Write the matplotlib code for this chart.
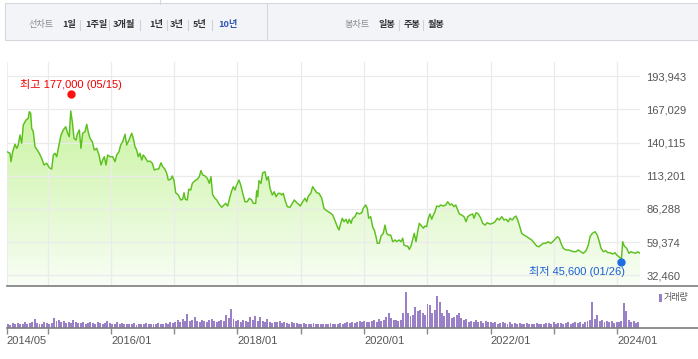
import numpy as np
import matplotlib
matplotlib.use('Agg')
import matplotlib.pyplot as plt
from matplotlib.lines import Line2D
from matplotlib.patches import Rectangle

plt.rcParams['font.family'] = ['Liberation Sans', 'Noto Sans CJK KR']

# ---------------- data ----------------
price_t = [
    2014.352, 2014.404, 2014.420, 2014.447, 2014.483, 2014.510, 2014.535, 2014.562, 2014.589, 2014.614,
    2014.657, 2014.693, 2014.709, 2014.731, 2014.747, 2014.772, 2014.799, 2014.836, 2014.867, 2014.905,
    2014.942, 2014.984, 2015.025, 2015.063, 2015.089, 2015.115, 2015.142, 2015.179, 2015.210, 2015.247,
    2015.285, 2015.316, 2015.341, 2015.364, 2015.389, 2015.416, 2015.447, 2015.468, 2015.500, 2015.526,
    2015.553, 2015.590, 2015.617, 2015.642, 2015.669, 2015.705, 2015.737, 2015.775, 2015.811, 2015.843,
    2015.869, 2015.895, 2015.922, 2015.948, 2015.985, 2016.028, 2016.064, 2016.091, 2016.127, 2016.154,
    2016.186, 2016.222, 2016.249, 2016.285, 2016.328, 2016.353, 2016.380, 2016.407, 2016.432, 2016.459,
    2016.486, 2016.511, 2016.549, 2016.581, 2016.617, 2016.654, 2016.685, 2016.723, 2016.755, 2016.791,
    2016.818, 2016.854, 2016.881, 2016.906, 2016.944, 2016.970, 2016.997, 2017.023, 2017.065, 2017.102,
    2017.134, 2017.155, 2017.175, 2017.207, 2017.229, 2017.261, 2017.286, 2017.329, 2017.365, 2017.396,
    2017.423, 2017.450, 2017.487, 2017.523, 2017.555, 2017.581, 2017.608, 2017.645, 2017.672, 2017.708,
    2017.751, 2017.787, 2017.814, 2017.845, 2017.882, 2017.909, 2017.934, 2017.961, 2017.988, 2018.024,
    2018.051, 2018.083, 2018.119, 2018.155, 2018.187, 2018.225, 2018.250, 2018.288, 2018.304, 2018.320,
    2018.340, 2018.372, 2018.399, 2018.435, 2018.462, 2018.487, 2018.514, 2018.551, 2018.582, 2018.609,
    2018.645, 2018.672, 2018.699, 2018.724, 2018.751, 2018.788, 2018.830, 2018.867, 2018.898, 2018.936,
    2018.961, 2018.993, 2019.031, 2019.067, 2019.094, 2019.120, 2019.158, 2019.189, 2019.225, 2019.252,
    2019.289, 2019.331, 2019.368, 2019.410, 2019.463, 2019.505, 2019.542, 2019.578, 2019.605, 2019.632,
    2019.657, 2019.684, 2019.716, 2019.742, 2019.768, 2019.795, 2019.821, 2019.858, 2019.885, 2019.926,
    2019.964, 2019.989, 2020.027, 2020.052, 2020.074, 2020.106, 2020.138, 2020.163, 2020.190, 2020.210,
    2020.242, 2020.269, 2020.305, 2020.332, 2020.359, 2020.384, 2020.422, 2020.454, 2020.490, 2020.517,
    2020.553, 2020.585, 2020.612, 2020.632, 2020.664, 2020.691, 2020.716, 2020.743, 2020.770, 2020.795,
    2020.822, 2020.849, 2020.874, 2020.912, 2020.938, 2020.964, 2020.991, 2021.017, 2021.043, 2021.070,
    2021.096, 2021.122, 2021.149, 2021.186, 2021.212, 2021.254, 2021.292, 2021.323, 2021.360, 2021.386,
    2021.423, 2021.450, 2021.481, 2021.507, 2021.545, 2021.581, 2021.613, 2021.639, 2021.676, 2021.718,
    2021.739, 2021.771, 2021.807, 2021.845, 2021.877, 2021.913, 2021.949, 2021.992, 2022.035, 2022.071,
    2022.107, 2022.139, 2022.177, 2022.213, 2022.245, 2022.281, 2022.308, 2022.344, 2022.376, 2022.403,
    2022.430, 2022.455, 2022.493, 2022.529, 2022.572, 2022.608, 2022.651, 2022.687, 2022.730, 2022.766,
    2022.798, 2022.834, 2022.872, 2022.913, 2022.951, 2022.983, 2023.019, 2023.056, 2023.087, 2023.114,
    2023.151, 2023.193, 2023.230, 2023.268, 2023.309, 2023.351, 2023.388, 2023.426, 2023.467, 2023.510,
    2023.546, 2023.573, 2023.609, 2023.652, 2023.688, 2023.720, 2023.747, 2023.783, 2023.821, 2023.853,
    2023.889, 2023.932, 2023.968, 2023.995, 2024.030, 2024.070, 2024.089, 2024.115, 2024.153, 2024.189,
    2024.221, 2024.257, 2024.295, 2024.327, 2024.363,
]
price_v = [
    132700, 131400, 124600, 132700, 138700, 135400, 138100, 146200, 139500, 154300,
    158400, 159700, 165100, 163800, 151600, 148900, 136700, 134000, 131400, 127300,
    121900, 123300, 119700, 118600, 130000, 131400, 128600, 138100, 146200, 150300,
    152900, 147600, 144800, 165700, 157000, 143500, 142100, 146800, 150300, 135400,
    147600, 148900, 154900, 148400, 143500, 140800, 134000, 135400, 130000, 121900,
    125900, 128600, 121900, 130000, 128600, 128600, 124600, 130000, 132700, 138100,
    140800, 146800, 138100, 142100, 147600, 143500, 136700, 134000, 128600, 131400,
    125900, 130000, 127300, 124600, 125100, 123300, 117800, 118600, 118600, 123700,
    120500, 118400, 115200, 109700, 110300, 113000, 109200, 99400, 97600, 93500,
    94100, 99400, 94100, 93500, 102200, 101600, 107000, 109200, 110300, 112400,
    117300, 113800, 113000, 111100, 107000, 112400, 97600, 94900, 93500, 90300,
    87600, 89500, 90800, 88600, 96200, 101000, 104300, 101600, 105700, 109700,
    105700, 98900, 92100, 92100, 94900, 93500, 90800, 90800, 101000, 96200,
    109200, 107000, 115600, 116400, 109700, 112400, 103000, 97600, 100200, 96200,
    98900, 98900, 97600, 98900, 93500, 88100, 87600, 90800, 93500, 91300,
    90300, 88600, 92100, 94900, 92100, 96700, 98900, 104300, 101600, 99400,
    98900, 95100, 86600, 84800, 83200, 81300, 76700, 71900, 69200, 74600,
    78700, 75900, 77900, 74600, 77900, 74600, 78700, 80000, 83200, 82200,
    83200, 86800, 89500, 86800, 78700, 80000, 71400, 69200, 63800, 58400,
    58400, 64300, 66500, 73200, 66500, 65100, 65100, 59700, 61100, 59700,
    61100, 59700, 62500, 57000, 56200, 56200, 53500, 56200, 61600, 66500,
    59700, 67800, 74600, 72400, 70600, 72400, 71900, 78700, 82200, 77900,
    81300, 84000, 88600, 88100, 89500, 88600, 89500, 92100, 89500, 90300,
    88100, 89500, 85400, 82200, 81300, 80000, 75900, 80000, 81300, 82200,
    78700, 83200, 82200, 78900, 74600, 73200, 75100, 74000, 74600, 75900,
    78700, 77300, 80000, 77300, 77900, 75900, 78700, 77300, 79500, 80500,
    77300, 73200, 66500, 65100, 63800, 62500, 61100, 58900, 56200, 55600,
    57000, 58400, 58400, 59700, 58400, 59700, 61600, 63800, 62500, 58400,
    54300, 53000, 53000, 52400, 51600, 51600, 53000, 51600, 50300, 52400,
    57000, 63800, 66500, 67800, 65100, 59700, 54300, 51600, 52400, 50800,
    50800, 49700, 50800, 48900, 47500, 45600, 59700, 56200, 54300, 50300,
    51600, 50800, 50300, 51600, 50300,
]

# biweekly trading volume (relative units)
vol_start = 2014.357
vol_values = [
    12, 10, 14, 11, 15, 12, 13, 17, 12, 14,
    18, 25, 15, 13, 12, 16, 14, 13, 15, 27,
    20, 24, 16, 21, 15, 18, 14, 22, 17, 15,
    14, 16, 13, 15, 17, 14, 12, 16, 15, 13,
    14, 19, 15, 13, 12, 16, 11, 14, 13, 12,
    12, 11, 14, 10, 12, 13, 11, 15, 12, 11,
    13, 12, 14, 11, 13, 15, 12, 16, 14, 18,
    22, 18, 25, 20, 38, 19, 24, 30, 21, 18,
    24, 20, 17, 22, 26, 19, 16, 21, 23, 20,
    35, 28, 52, 25, 20, 22, 18, 24, 20, 17,
    30, 22, 33, 19, 32, 21, 18, 25, 17, 15,
    18, 16, 20, 14, 17, 15, 13, 16, 14, 15,
    13, 12, 14, 11, 13, 12, 14, 11, 12, 13,
    11, 13, 12, 14, 11, 12, 13, 15, 12, 14,
    16, 14, 18, 15, 17, 19, 16, 20, 18, 17,
    20, 22, 18, 25, 21, 24, 30, 41, 27, 22,
    22, 19, 24, 41, 100, 41, 33, 36, 59, 46,
    49, 41, 36, 66, 63, 41, 49, 88, 73, 41,
    33, 49, 41, 27, 32, 36, 43, 27, 22, 25,
    18, 20, 16, 22, 17, 19, 15, 21, 18, 16,
    14, 17, 13, 15, 18, 14, 12, 16, 13, 15,
    12, 14, 11, 13, 15, 12, 13, 11, 14, 12,
    13, 12, 15, 14, 12, 16, 13, 15, 14, 12,
    14, 16, 13, 15, 17, 14, 16, 13, 18, 20,
    22, 73, 25, 36, 20, 24, 18, 21, 16, 19,
    15, 18, 16, 20, 70, 46, 22, 17, 19, 14, 16,
]

y_ticks = [32460, 59374, 86288, 113201, 140115, 167029, 193943]
year_ticks = [2015, 2016, 2017, 2018, 2019, 2020, 2021, 2022, 2023, 2024]
x_tick_labels = ['2014/05', '', '2016/01', '', '2018/01', '', '2020/01', '', '2022/01', '', '2024/01']

high_t, high_v, high_label = 2015.37, 177000, '최고 177,000 (05/15)'
low_t, low_v, low_label = 2024.07, 45600, '최저 45,600 (01/26)'

line_menu = ['1일', '1주일', '3개월', '1년', '3년', '5년', '10년']
candle_menu = ['일봉', '주봉', '월봉']

# ---------------- figure ----------------
W, H = 698, 359
fig = plt.figure(figsize=(W / 100, H / 100), dpi=100)
fig.patch.set_facecolor('white')


def fx(px):
    return px / W


def fy(py):
    return 1 - py / H


# toolbar
fig.patches.append(Rectangle((fx(5), fy(40)), fx(720), fy(3.5) - fy(40), transform=fig.transFigure,
                             facecolor='#f3f4f7', edgecolor='#d5d8de', lw=0.8))
fig.lines.append(Line2D([fx(266.7), fx(266.7)], [fy(3.5), fy(40)], transform=fig.transFigure,
                        color='#d5d8de', lw=0.8))
fig.lines.append(Line2D([fx(160), fx(160)], [fy(0), fy(3.5)], transform=fig.transFigure,
                        color='#d5d8de', lw=0.8))

kfont = ['Noto Sans CJK KR']
ty = fy(24.3)
mfs = 6.6
fig.text(fx(41), ty, '선차트', ha='center', va='center', fontsize=mfs, color='#8a8a8a', family=kfont)
menu_x = [68.8, 96, 123.5, 156, 176.5, 199.5, 227.5]
for lbl, x in zip(line_menu, menu_x):
    col = '#2f56b0' if lbl == '10년' else '#333333'
    fig.text(fx(x), ty, lbl, ha='center', va='center', fontsize=mfs, color=col,
             fontweight='bold', family=kfont)
fig.text(fx(357.5), ty, '봉차트', ha='center', va='center', fontsize=mfs, color='#8a8a8a', family=kfont)
for lbl, x in zip(candle_menu, [386.5, 411.5, 436]):
    fig.text(fx(x), ty, lbl, ha='center', va='center', fontsize=mfs, color='#333333',
             fontweight='bold', family=kfont)
for sx in [80, 109, 140, 167, 188, 212, 399, 423]:
    fig.lines.append(Line2D([fx(sx), fx(sx)], [fy(19.5), fy(29.5)], transform=fig.transFigure,
                            color='#cfd2d8', lw=0.8))

# price axes
ymin, ymax = 24030, 205380
xmin, xmax = price_t[0], price_t[-1]
ax = fig.add_axes([fx(6.7), fy(285.7), fx(640 - 6.7), fy(62) - fy(285.7)])
ax.set_xlim(xmin, xmax)
ax.set_ylim(ymin, ymax)
for s in ax.spines.values():
    s.set_visible(False)

poly = ax.fill_between(price_t, price_v, ymin, facecolor='none', edgecolor='none')
grad = np.linspace(0, 1, 256).reshape(-1, 1, 1)
top_c = np.array([0.79, 0.955, 0.63]).reshape(1, 1, 3)
bot_c = np.array([0.975, 0.995, 0.965]).reshape(1, 1, 3)
img = bot_c + (top_c - bot_c) * grad
im = ax.imshow(img, extent=[xmin, xmax, ymin, max(price_v)], origin='lower', aspect='auto', zorder=1)
im.set_clip_path(poly.get_paths()[0], transform=ax.transData)
ax.set_xlim(xmin, xmax)
ax.set_ylim(ymin, ymax)

ax.plot(price_t, price_v, color='#5cc01e', lw=1.05, zorder=3)

ax.set_yticks(y_ticks)
ax.set_yticklabels([f'{v:,}' for v in y_ticks])
ax.yaxis.tick_right()
ax.tick_params(axis='y', length=0, pad=4.5, labelsize=8, labelcolor='#555555')
ax.set_xticks(year_ticks)
ax.tick_params(axis='x', length=0, labelbottom=False)
ax.grid(True, color='#ebebeb', lw=0.9)
ax.set_axisbelow(False)
ax.axvline(xmin, color='#ebebeb', lw=1.2, zorder=2)

# high / low markers
ax.plot([high_t], [high_v], 'o', color='#ff1010', ms=5, zorder=5,
        transform=ax.transData + matplotlib.transforms.ScaledTranslation(0, 2.7 / 100, fig.dpi_scale_trans))
ax.annotate(high_label, xy=(high_t, high_v), xytext=(0, 13), textcoords='offset pixels',
            ha='center', va='center', fontsize=8, color='#ee0000', zorder=6)
ax.plot([low_t], [low_v], 'o', color='#1f6fe0', ms=5, zorder=5,
        transform=ax.transData + matplotlib.transforms.ScaledTranslation(0, -2.7 / 100, fig.dpi_scale_trans))
ax.annotate(low_label, xy=(low_t, low_v), xytext=(3.5, -12), textcoords='offset pixels',
            ha='right', va='center', fontsize=8, color='#1a5fd0', zorder=6)

fig.lines.append(Line2D([fx(6.7), fx(698)], [fy(285.7), fy(285.7)], transform=fig.transFigure,
                        color='#7d7d7d', lw=1.2))

# volume axes
axv = fig.add_axes([fx(6.7), fy(328.3), fx(640 - 6.7), fy(288) - fy(328.3)])
vol_t = vol_start + np.arange(len(vol_values)) * (14 / 365.25)
axv.bar(vol_t, vol_values, width=0.031, align='edge', color='#9a80c6', antialiased=False)
axv.set_xlim(xmin, xmax)
axv.set_ylim(0, 110)
for s in axv.spines.values():
    s.set_visible(False)
axv.set_yticks([])
axv.set_xticks([xmin] + year_ticks)
axv.set_xticklabels(x_tick_labels)
for t in axv.get_xticklabels():
    t.set_ha('left')
axv.tick_params(axis='x', length=4, width=1, color='#8a8a8a', pad=1.5, labelsize=8,
                labelcolor='#555555')
fig.lines.append(Line2D([fx(6.7), fx(698)], [fy(328.3), fy(328.3)], transform=fig.transFigure,
                        color='#7d7d7d', lw=1.2))

# volume legend
fig.patches.append(Rectangle((fx(659.3), fy(301.7)), fx(2.7), fy(294) - fy(301.7),
                             transform=fig.transFigure, facecolor='#9a80c6', edgecolor='none'))
fig.text(fx(663.5), fy(297.8), '거래량', ha='left', va='center', fontsize=6.5, color='#555555',
         family=kfont)

fig.savefig('out.png', dpi=100)
